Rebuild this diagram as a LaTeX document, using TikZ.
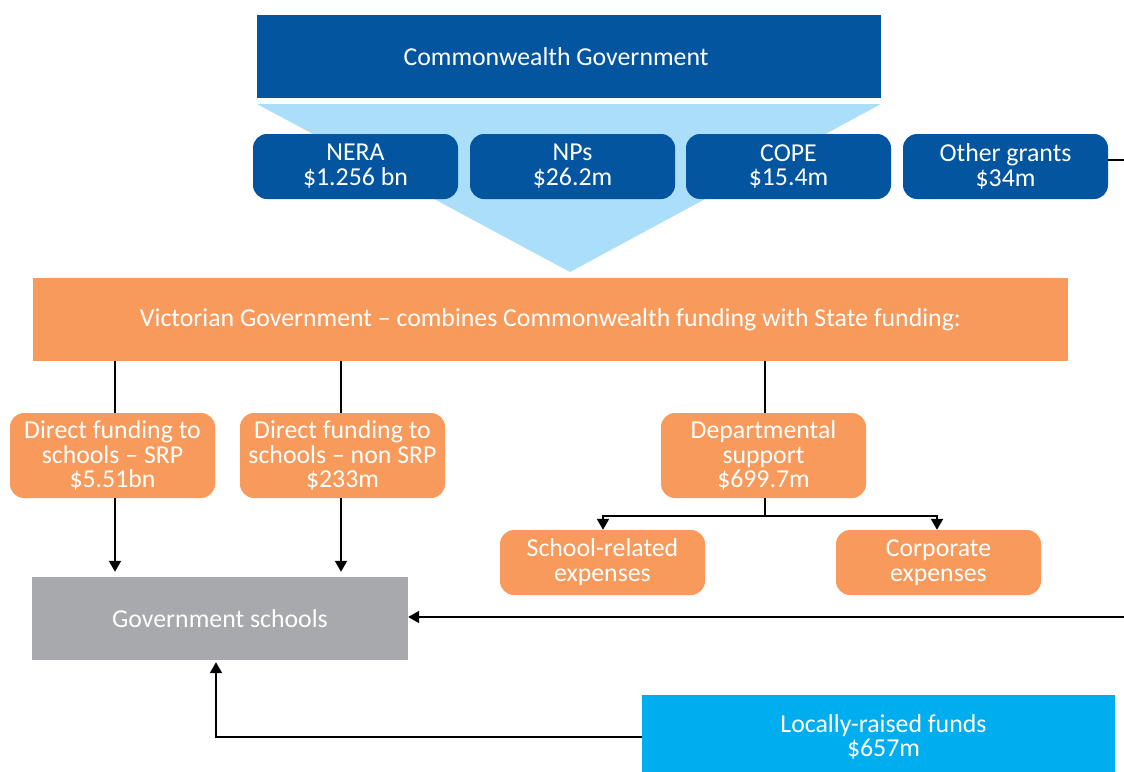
\documentclass[tikz,border=0pt]{standalone}
\usepackage{fontspec}
\setmainfont{Carlito}
\usetikzlibrary{arrows.meta}
\definecolor{cwblue}{RGB}{4,85,160}
\definecolor{tri}{RGB}{171,223,249}
\definecolor{vicor}{RGB}{247,154,91}
\definecolor{gsgrey}{RGB}{167,169,172}
\definecolor{lrcyan}{RGB}{0,174,239}
\tikzset{
  lbl/.style={text=white, align=center, inner sep=0pt, font=\fontsize{25.8}{24.8}\selectfont},
  flat/.style={lbl},
  pill/.style={lbl, rounded corners=14pt, minimum width=205pt},
  bluepill/.style={pill, fill=cwblue, minimum height=65pt},
  orpill/.style={pill, fill=vicor, minimum height=85pt},
  orsmall/.style={pill, fill=vicor, minimum height=65pt},
  conn/.style={draw=black, line width=2pt},
  arr/.style={conn, -{Triangle[width=12pt,length=11pt]}}
}
\begin{document}
\begin{tikzpicture}[x=1pt,y=-1pt]
\useasboundingbox[fill=white] (0,0) rectangle (1124,771);
% funnel
\fill[tri] (257,104) -- (881,104) -- (570,272) -- cycle;
\node[flat, fill=cwblue, minimum width=624pt, minimum height=83pt] (cw) at (569,56.5) {\hspace*{-26pt}Commonwealth Government};
\node[bluepill] (nera) at (355.5,166.5) {NERA\\\$1.256 bn};
\node[bluepill] (nps) at (572.5,166.5) {NPs\\\$26.2m};
\node[bluepill] (cope) at (788.5,166.5) {COPE\\\$15.4m};
\node[bluepill] (other) at (1005.5,166.5) {Other grants\\\$34m};
\node[flat, fill=vicor, minimum width=1035pt, minimum height=83pt] (vic) at (550.5,319.5) {Victorian Government – combines Commonwealth funding with State funding:};
\node[orpill] (srp) at (112.5,455.5) {Direct funding to\\schools – SRP\\\$5.51bn};
\node[orpill] (nsrp) at (342.5,455.5) {Direct funding to\\schools – non SRP\\\$233m};
\node[orpill] (dept) at (763.5,455.5) {Departmental\\support\\\$699.7m};
\node[orsmall] (school) at (602.5,562.5) {School-related\\expenses};
\node[orsmall] (corp) at (938.5,562.5) {Corporate\\expenses};
\node[flat, fill=gsgrey, minimum width=376pt, minimum height=83pt] (gov) at (220,618.5) {Government schools};
\node[flat, fill=lrcyan, minimum width=473pt, minimum height=84pt] (local) at (878.5,737) {\hspace*{10pt}Locally-raised funds\\\hspace*{10pt}\$657m};
% edge coordinates
\coordinate (r1) at (1124,160);
\coordinate (r2) at (1124,617);
\coordinate (split) at (765,516);
% connectors
\draw[conn] (other.east |- r1) -- (r1);
\draw[arr] (r2) -- (gov.east |- r2);
\draw[conn] (vic.south -| 115,0) -- (srp.north -| 115,0);
\draw[conn] (vic.south -| 341,0) -- (nsrp.north -| 341,0);
\draw[conn] (vic.south -| 765,0) -- (dept.north -| 765,0);
\draw[arr, shorten >=5pt] (srp.south -| 115,0) -- (gov.north -| 115,0);
\draw[arr, shorten >=5pt] (nsrp.south -| 341,0) -- (gov.north -| 341,0);
\draw[conn] (dept.south -| split) -- (split);
\draw[arr] (split) -| (school.north -| 603,0);
\draw[arr] (split) -| (corp.north -| 937,0);
\draw[arr, shorten >=2pt] (local.west |- 0,737) -| (gov.south -| 216,0);
\end{tikzpicture}
\end{document}
